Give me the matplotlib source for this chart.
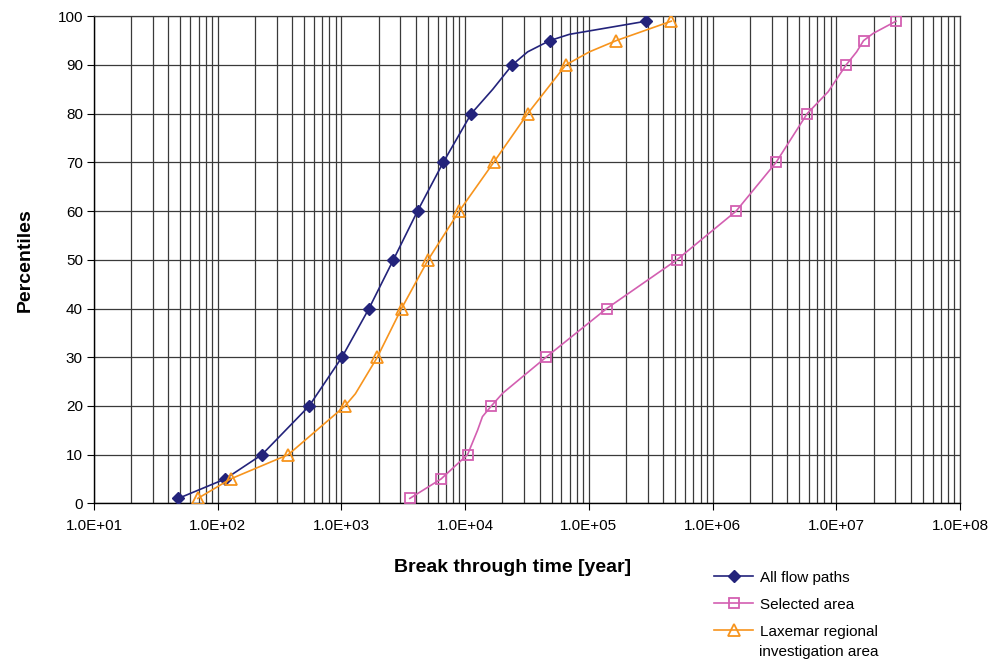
import matplotlib
matplotlib.use('Agg')
import matplotlib.pyplot as plt
import matplotlib.ticker as ticker
import numpy as np

plt.rcParams['font.family'] = ['Liberation Sans', 'DejaVu Sans']

# percentile levels that get a marker
marked_pct = [1, 5, 10, 20, 30, 40, 50, 60, 70, 80, 90, 95, 99]

# all flow paths
pct_flow = [1, 5, 10, 20, 30, 40, 50, 60, 70, 80, 85, 90, 92.7, 95, 96.3, 99]
t_flow = [48, 115, 228, 549, 1010, 1670, 2630, 4120, 6650, 11200, 16700,
          24000, 32000, 48200, 69700, 291000]

# selected area
pct_sel = [1, 5, 10, 15, 17.8, 20, 22.6, 30, 40, 50, 60, 70, 80, 84.5, 90,
           92.7, 95, 96.5, 99]
t_sel = [3570, 6390, 10460, 12600, 13800, 16300, 20100, 45100, 139500,
         515000, 1.55e6, 3.26e6, 5.81e6, 8.59e6, 1.20e7, 1.46e7, 1.66e7,
         1.99e7, 3.04e7]

# Laxemar regional investigation area
pct_lax = [1, 5, 10, 20, 22.5, 30, 40, 50, 60, 70, 80, 90, 92.7, 95, 99]
t_lax = [69, 127, 372, 1070, 1297, 1950, 3060, 5020, 8960, 17000, 32000,
         65000, 101000, 166000, 464000]

x_ticks = [1e1, 1e2, 1e3, 1e4, 1e5, 1e6, 1e7, 1e8]


def marks(pct):
    return [i for i, p in enumerate(pct) if p in marked_pct]


fig = plt.figure(figsize=(9.88, 6.64), dpi=100)
ax = fig.add_axes([94/988, 1-503.3/664, (960-94)/988, (503.3-16.3)/664])

ax.plot(t_flow, pct_flow, '-', color='#23237b', lw=1.2, marker='D', ms=6.5,
        markevery=marks(pct_flow), label='All flow paths', zorder=3)
ax.plot(t_sel, pct_sel, '-', color='#d35fb1', lw=1.2, marker='s', ms=7,
        mfc='none', mew=1.3, markevery=marks(pct_sel), label='Selected area', zorder=3)
ax.plot(t_lax, pct_lax, '-', color='#f7941d', lw=1.2, marker='^', ms=8.5,
        mfc='none', mew=1.3, markevery=marks(pct_lax),
        label='Laxemar regional', zorder=3)

ax.set_xscale('log')
ax.set_xlim(1e1, 1e8)
ax.set_ylim(0, 100)
ax.set_xticks(x_ticks)
ax.xaxis.set_major_formatter(ticker.FuncFormatter(lambda v, p: '%.1E' % v))
ax.xaxis.set_minor_locator(ticker.LogLocator(base=10, subs=np.arange(2, 10)))
ax.xaxis.set_minor_formatter(ticker.NullFormatter())
ax.set_yticks(np.arange(0, 101, 10))

ax.grid(True, which='both', axis='x', color='#3a3a3a', lw=0.9)
ax.grid(True, which='major', axis='y', color='#3a3a3a', lw=0.9)
ax.tick_params(axis='both', which='major', labelsize=11, length=5,
               direction='out', color='k')
ax.tick_params(axis='y', which='major', pad=3)
ax.tick_params(axis='x', which='major', pad=6)
ax.tick_params(axis='x', which='minor', length=0)

for s in ['left', 'bottom']:
    ax.spines[s].set_color('k')
    ax.spines[s].set_linewidth(1.0)
for s in ['top', 'right']:
    ax.spines[s].set_color('#3a3a3a')
    ax.spines[s].set_linewidth(0.9)

ax.set_ylabel('Percentiles', fontsize=14, fontweight='bold', labelpad=17)
fig.text(513/988, 1-568/664, 'Break through time [year]', fontsize=14,
         fontweight='bold', ha='center', va='center')

leg = fig.legend(loc='upper left', bbox_to_anchor=(700/988, 1-557/664),
                 frameon=False, fontsize=11, handlelength=2.6,
                 labelspacing=0.85, handletextpad=0.4)
# second line of the last legend entry
fig.text(759/988, 1-652/664, 'investigation area', fontsize=11,
         ha='left', va='center')

fig.savefig('out.png', dpi=100)
